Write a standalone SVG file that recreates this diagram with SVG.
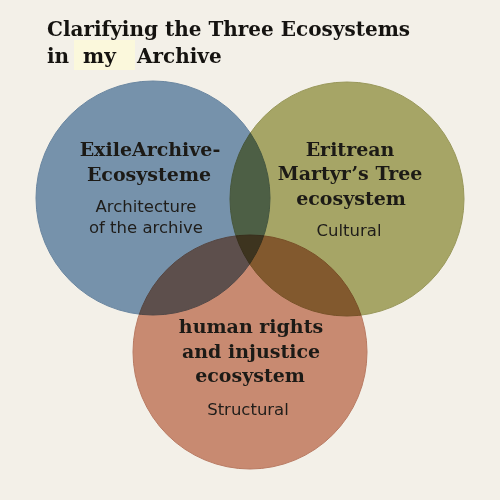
<svg xmlns="http://www.w3.org/2000/svg" width="500" height="500" viewBox="0 0 500 500">
<style>
.c{mix-blend-mode:multiply;stroke-width:1}
.h{font-family:"DejaVu Serif",serif;font-weight:bold;fill:#1c1a16;text-anchor:middle;font-size:19px}
.s{font-family:"DejaVu Sans",sans-serif;fill:#1f1d1a;text-anchor:middle;font-size:16.5px}
.t{font-family:"DejaVu Serif",serif;font-weight:bold;fill:#151310;font-size:20px}
</style>
<rect width="500" height="500" fill="#f3f0e8"/>
<g id="title">
<rect x="74" y="40" width="61" height="30" fill="#fbf8dc"/>
<text class="t" x="47" y="36">Clarifying the Three Ecosystems</text>
<text class="t" x="47" y="63">in <tspan x="83">my</tspan> <tspan x="137">Archive</tspan></text>
</g>
<g id="diagram" style="isolation:isolate">
<g id="exile">
<circle class="c" cx="153" cy="198" r="117" fill="#7692ab" stroke="#6a86a0"/>
</g>
<g id="eritrean">
<circle class="c" cx="347" cy="199" r="117" fill="#a6a566" stroke="#98975a"/>
</g>
<g id="human">
<circle class="c" cx="250" cy="352" r="117" fill="#c88a71" stroke="#b87a62"/>
</g>
</g>
<g id="labels">
<g id="exile-label">
<text class="h" x="150" y="156">ExileArchive-</text>
<text class="h" x="149" y="181">Ecosysteme</text>
<text class="s" x="146" y="212">Architecture</text>
<text class="s" x="146" y="233">of the archive</text>
</g>
<g id="eritrean-label">
<text class="h" x="350" y="156">Eritrean</text>
<text class="h" x="350" y="180">Martyr’s Tree</text>
<text class="h" x="351" y="205">ecosystem</text>
<text class="s" x="349" y="236">Cultural</text>
</g>
<g id="human-label">
<text class="h" x="251" y="333">human rights</text>
<text class="h" x="251" y="358">and injustice</text>
<text class="h" x="250" y="382">ecosystem</text>
<text class="s" x="248" y="415">Structural</text>
</g>
</g>
</svg>
